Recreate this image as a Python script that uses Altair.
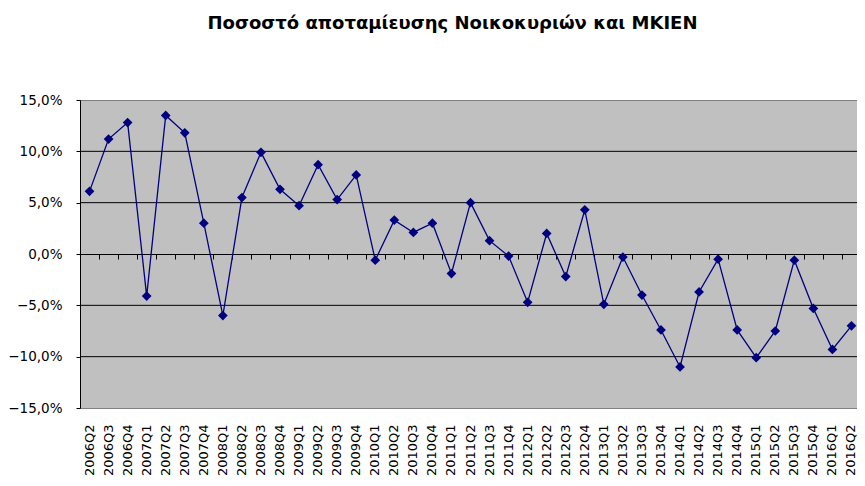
import altair as alt
import pandas as pd

quarters = ["2006Q2", "2006Q3", "2006Q4",
            "2007Q1", "2007Q2", "2007Q3", "2007Q4",
            "2008Q1", "2008Q2", "2008Q3", "2008Q4",
            "2009Q1", "2009Q2", "2009Q3", "2009Q4",
            "2010Q1", "2010Q2", "2010Q3", "2010Q4",
            "2011Q1", "2011Q2", "2011Q3", "2011Q4",
            "2012Q1", "2012Q2", "2012Q3", "2012Q4",
            "2013Q1", "2013Q2", "2013Q3", "2013Q4",
            "2014Q1", "2014Q2", "2014Q3", "2014Q4",
            "2015Q1", "2015Q2", "2015Q3", "2015Q4",
            "2016Q1", "2016Q2"]
saving_rate = [6.1, 11.2, 12.8,
               -4.1, 13.5, 11.8, 3.0,
               -6.0, 5.5, 9.9, 6.3,
               4.7, 8.7, 5.3, 7.7,
               -0.6, 3.3, 2.1, 3.0,
               -1.9, 5.0, 1.3, -0.2,
               -4.7, 2.0, -2.2, 4.3,
               -4.9, -0.3, -4.0, -7.4,
               -11.0, -3.7, -0.5, -7.4,
               -10.1, -7.5, -0.6, -5.3,
               -9.3, -7.0]
y_ticks = [-15, -10, -5, 0, 5, 10, 15]
grid_values = [-10, -5, 5, 10]

title_text = "Ποσοστό αποταμίευσης Νοικοκυριών και ΜΚΙΕΝ"

df = pd.DataFrame({"quarter": quarters, "rate": saving_rate})
grid_df = pd.DataFrame({"g": grid_values})

FONT = "DejaVu Sans"
NAVY = "#000080"

x_scale = alt.Scale(type="band", paddingInner=0, paddingOuter=0)
y_scale = alt.Scale(domain=[-15, 15], nice=False, zero=False)

y_axis = alt.Axis(values=y_ticks, grid=False, domainColor="black", domainWidth=1,
                  tickColor="black", tickSize=4, labelPadding=14,
                  labelExpr="replace(format(datum.value, '.1f'), '.', ',') + '%'",
                  labelFont=FONT, labelFontSize=13.5, labelColor="black", title=None)

x_axis_labels = alt.Axis(orient="bottom", labelAngle=-90, ticks=False, tickSize=0,
                         domain=False, grid=False, labelPadding=16,
                         labelFont=FONT, labelFontSize=13, labelColor="black",
                         labelAlign="right", labelBaseline="middle", title=None)

x_axis_zero = alt.Axis(orient="bottom", offset=-154, labels=False, ticks=True,
                       tickBand="extent", tickSize=5, tickColor="black",
                       domainColor="black", domainWidth=1, grid=False, title=None)

grid = alt.Chart(grid_df).mark_rule(color="black", strokeWidth=1).encode(
    y=alt.Y("g:Q", scale=y_scale, axis=y_axis)
)

line = alt.Chart(df).mark_line(color=NAVY, strokeWidth=1.3).encode(
    x=alt.X("quarter:N", sort=quarters, scale=x_scale, axis=x_axis_labels),
    y=alt.Y("rate:Q", scale=y_scale, axis=y_axis),
)

points = alt.Chart(df).mark_point(shape="diamond", filled=True, color=NAVY,
                                   size=95, opacity=1).encode(
    x=alt.X("quarter:N", sort=quarters, scale=x_scale, axis=x_axis_zero),
    y=alt.Y("rate:Q", scale=y_scale, axis=y_axis),
)

chart = alt.layer(grid, line, points).resolve_axis(x="independent").properties(
    width=781,
    height=308,
    background="white",
    autosize=alt.AutoSizeParams(type="none"),
    padding={"left": 72, "top": 92, "right": -4, "bottom": 70},
    title=alt.TitleParams(text=title_text, font=FONT, fontSize=18, fontWeight="bold",
                          color="black", anchor="middle", dx=-18, offset=60),
).configure_view(
    fill="#C0C0C0", stroke="#808080", strokeWidth=1
)

chart.save("out.html", embed_options={"renderer": "svg", "actions": False})
